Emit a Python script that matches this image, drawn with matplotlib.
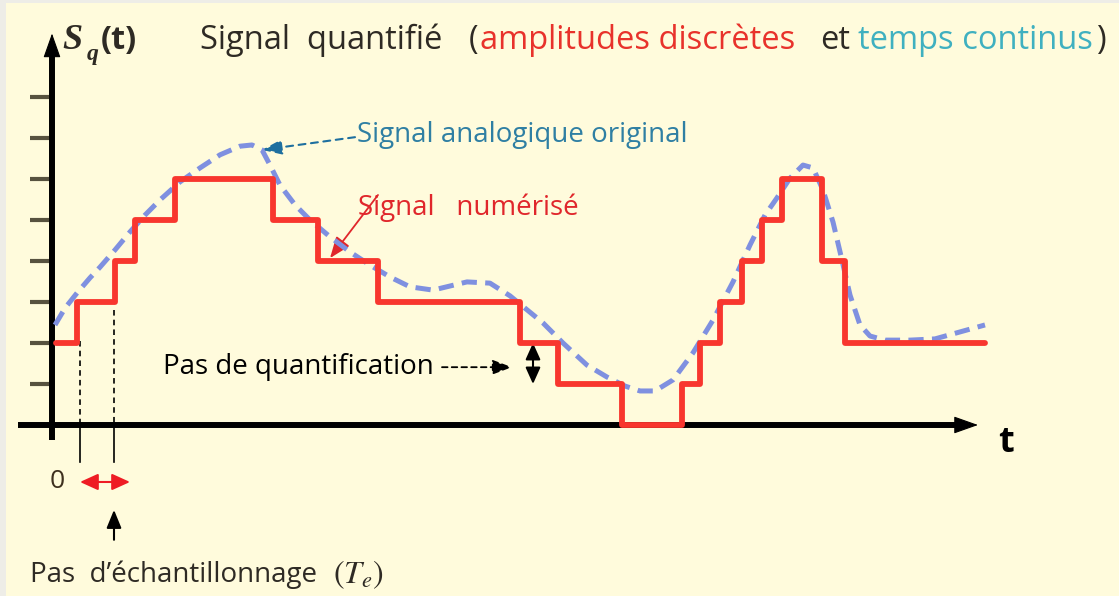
import matplotlib
matplotlib.use("Agg")
import matplotlib.pyplot as plt
from matplotlib.patches import Rectangle

plt.rcParams["mathtext.fontset"] = "stix"
plt.rcParams["lines.scale_dashes"] = False
plt.rcParams["font.family"] = ["Open Sans", "DejaVu Sans"]

# Quantized signal: instants where the held level changes, and the level held from there on
step_t = [0.4, 2.5, 6.3, 8.3, 12.3, 22.1, 26.6, 32.6, 46.8, 50.6, 57.0,
          63.0, 64.8, 66.8, 69.0, 71.0, 73.0, 77.0, 79.3, 93.3]
step_level = [2, 3, 4, 5, 6, 5, 4, 3, 2, 1, 0,
              1, 2, 3, 4, 5, 6, 4, 2, 2]

# Original analog signal (same time / amplitude units)
analog_t = [0.3, 1.3, 2.5, 3.8, 4.8, 6.3, 7.8, 9.3, 10.8, 12.8, 14.8, 16.8,
            18.8, 20.0, 21.0, 21.8, 22.8, 24.3, 25.8, 27.8, 29.8, 31.8, 33.8,
            35.8, 38.1, 39.8, 41.5, 43.8, 45.8, 47.3, 49.1, 51.1, 53.5, 55.5,
            57.3, 58.8, 60.3, 62.1, 64.1, 66.1, 68.1, 69.8, 71.3, 72.5, 73.8,
            75.1, 76.1, 77.1, 78.1, 79.0, 79.8, 80.8, 81.8, 83.3, 85.8, 88.3,
            90.8, 93.3]
analog_s = [2.44, 2.85, 3.22, 3.59, 3.85, 4.27, 4.71, 5.12, 5.49, 5.93, 6.27,
            6.59, 6.80, 6.83, 6.71, 6.34, 5.85, 5.37, 5.00, 4.59, 4.22, 3.90,
            3.61, 3.37, 3.29, 3.39, 3.49, 3.46, 3.15, 2.85, 2.49, 2.00, 1.46,
            1.17, 0.95, 0.83, 0.83, 1.10, 1.76, 2.56, 3.49, 4.39, 5.12, 5.54,
            6.02, 6.34, 6.27, 5.73, 4.95, 4.02, 3.17, 2.44, 2.17, 2.07, 2.07,
            2.10, 2.27, 2.44]

level_ticks = [1, 2, 3, 4, 5, 6, 7, 8]
sample_marks = [2.8, 6.2]          # two consecutive sampling instants (Te)
sample_marks_top = [2.05, 2.8]

RED = "#f8362e"
BLUE = "#7f90e0"
DARK = "#2e2a24"

fig = plt.figure(figsize=(11.19, 5.96), dpi=100)
fig.patch.set_facecolor("#eeede7")
fig.add_artist(Rectangle((6 / 1119, 0), 1, 1 - 3 / 596, transform=fig.transFigure,
                         facecolor="#fffbdc", edgecolor="none", zorder=0))

ax = fig.add_axes([0, 0, 1, 1])
ax.set_xlim(-5.2, 106.7)
ax.set_ylim(-4.171, 10.366)
ax.axis("off")


def head(tip, back, color, hl, hw, lw=0.8):
    ax.annotate("", xy=tip, xytext=back,
                arrowprops=dict(arrowstyle=f"-|>,head_length={hl},head_width={hw}",
                                color=color, lw=lw, shrinkA=0, shrinkB=0,
                                mutation_scale=10))


# axes with arrow heads
ax.plot([0, 0], [-0.37, 9.0], color="black", lw=4.3, solid_capstyle="butt", zorder=3)
head((0, 9.55), (0, 8.9), "black", 1.55, 0.55)
ax.plot([-3.4, 91.0], [0, 0], color="black", lw=4.3, solid_capstyle="butt", zorder=3)
head((92.6, 0), (90.5, 0), "black", 1.55, 0.55)

# amplitude ticks (quantization levels)
ax.hlines(level_ticks, -2.2, -0.3, color="#57523f", lw=3.0, zorder=2)

# signals
ax.plot(analog_t, analog_s, color=BLUE, lw=3.6, dashes=(11, 6), zorder=4)
ax.step(step_t, step_level, where="post", color=RED, lw=4.2,
        solid_joinstyle="round", solid_capstyle="round", zorder=5)

# sampling instants
for t0, top in zip(sample_marks, sample_marks_top):
    ax.plot([t0, t0], [top, 0], color="black", lw=1.2, dashes=(4, 3), zorder=3)
    ax.plot([t0, t0], [0, -0.9], color="black", lw=1.2, zorder=3)

# title
ty = 9.17
TS = 23.5
ax.text(1.0, ty, "S", fontsize=26, fontweight="bold", fontstyle="italic",
        family="Liberation Serif", color=DARK, va="baseline")
ax.text(3.5, ty - 0.27, "q", fontsize=17, fontweight="bold", fontstyle="italic",
        family="Liberation Serif", color=DARK, va="baseline")
ax.text(4.9, ty, "(t)", fontsize=TS, fontweight="bold", color=DARK, va="baseline")
ax.text(14.8, ty, "Signal  quantifié", fontsize=TS, color=DARK, va="baseline")
ax.text(41.7, ty, "(", fontsize=TS, color=DARK, va="baseline")
ax.text(42.8, ty, "amplitudes discrètes", fontsize=TS, color="#e8322b", va="baseline")
ax.text(76.8, ty, "et", fontsize=TS, color=DARK, va="baseline")
ax.text(80.6, ty, "temps continus", fontsize=TS, color="#3fb0c0", va="baseline")
ax.text(104.4, ty, ")", fontsize=TS, color=DARK, va="baseline")

# annotations
FS = 20
ax.text(30.5, 7.07, "Signal analogique original", fontsize=FS, color="#2f7fa3", va="center")
ax.annotate("", xy=(21.0, 6.71), xytext=(30.3, 7.02),
            arrowprops=dict(arrowstyle="-|>,head_length=1.2,head_width=0.45",
                            color="#1e6f9f", lw=1.5, linestyle=(0, (5, 4)),
                            shrinkA=0, shrinkB=0, mutation_scale=10))

ax.text(30.6, 5.29, "Signal   numérisé", fontsize=FS, color="#e0262b", va="center")
ax.annotate("", xy=(27.8, 4.07), xytext=(32.6, 5.61),
            arrowprops=dict(arrowstyle="-|>,head_length=1.3,head_width=0.5",
                            color="#e0262b", lw=1.3, shrinkA=0, shrinkB=0,
                            mutation_scale=10))

ax.text(11.1, 1.42, "Pas de quantification", fontsize=FS, color="black", va="center")
ax.annotate("", xy=(46.0, 1.41), xytext=(39.0, 1.41),
            arrowprops=dict(arrowstyle="-|>,head_length=1.2,head_width=0.45",
                            color="black", lw=1.3, linestyle=(0, (4, 3)),
                            shrinkA=0, shrinkB=0, mutation_scale=10))
ax.annotate("", xy=(48.1, 2.0), xytext=(48.1, 1.0),
            arrowprops=dict(arrowstyle="<|-|>,head_length=1.0,head_width=0.45",
                            color="black", lw=1.5, shrinkA=0, shrinkB=0,
                            mutation_scale=10))

ax.text(0.5, -1.37, "0", fontsize=19, color="#3e301f", ha="center", va="center")
ax.annotate("", xy=(7.8, -1.39), xytext=(2.8, -1.39),
            arrowprops=dict(arrowstyle="<|-|>,head_length=1.1,head_width=0.5",
                            color="#ee1c24", lw=1.5, shrinkA=0, shrinkB=0,
                            mutation_scale=10))
ax.annotate("", xy=(6.2, -2.07), xytext=(6.2, -2.8),
            arrowprops=dict(arrowstyle="-|>,head_length=1.1,head_width=0.45",
                            color="black", lw=1.5, shrinkA=0, shrinkB=0,
                            mutation_scale=10))
ax.text(-2.2, -3.66, "Pas  d’échantillonnage", fontsize=FS, color=DARK, va="center")
ax.text(28.1, -3.66, "$(T_e)$", fontsize=23, color=DARK, va="center")

ax.text(94.6, -0.44, "t", fontsize=26, fontweight="bold", color="black", va="center")

fig.savefig("out.png", dpi=100, facecolor=fig.get_facecolor())
